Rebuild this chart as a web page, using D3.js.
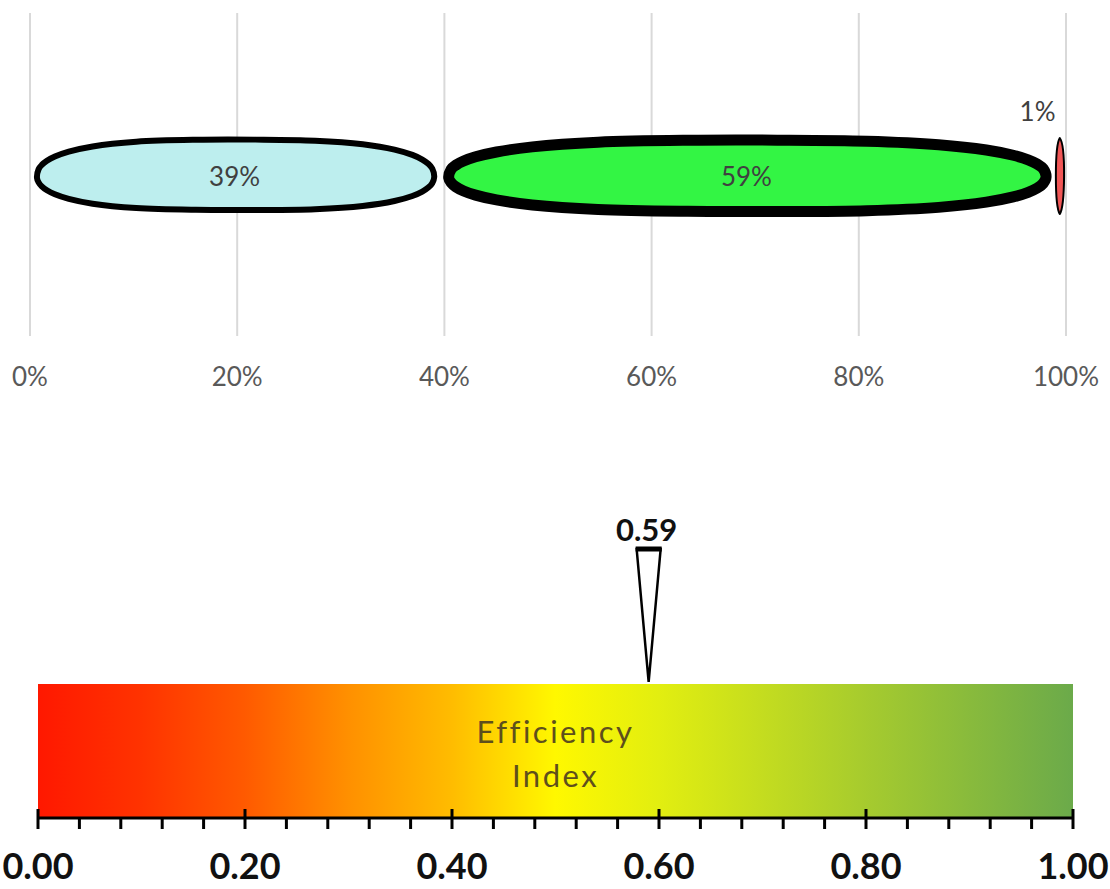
<!DOCTYPE html>
<html><head><meta charset="utf-8">
<script src="https://cdn.jsdelivr.net/npm/d3@7"></script>
<style>html,body{margin:0;padding:0;background:#fff;} svg{display:block;}</style>
</head><body>
<script>
// ---- data ----
const segLabels = ["39%", "59%", "1%"];
const segValues = [0.395, 0.593, 0.012];
const segColors = ["#BDEEEE", "#33F544", "#F05656"];
const topTicks = [0, 0.2, 0.4, 0.6, 0.8, 1.0];
const indexValue = 0.59;
const indexTitle = ["Efficiency", "Index"];
const bottomMajor = [0, 0.2, 0.4, 0.6, 0.8, 1.0];
const bottomMinor = d3.range(0, 25).map(i => i * 0.04).filter(v => Math.abs(v * 5 - Math.round(v * 5)) > 1e-6);
const gradStops = [
  [0.0, "#FF1800"], [0.1, "#FF3300"], [0.2, "#FF5A00"], [0.3, "#FF9000"],
  [0.4, "#FFBC00"], [0.5, "#FFF800"], [0.6, "#E2EE10"], [0.8, "#A6CB2E"], [1.0, "#6BAA4A"]
];

const W = 1110, H = 889;
const FONT = "Lato, 'Open Sans', sans-serif";
const svg = d3.select("body").append("svg").attr("width", W).attr("height", H);

// ---- top stacked bar ----
const x = d3.scaleLinear().domain([0, 1]).range([30, 1066]);
const gridTop = 13, gridBottom = 336;
svg.append("g").selectAll("line").data(topTicks).join("line")
  .attr("x1", d => x(d)).attr("x2", d => x(d))
  .attr("y1", gridTop).attr("y2", gridBottom)
  .attr("stroke", "#d9d9d9").attr("stroke-width", 2);

svg.append("g").selectAll("text").data(topTicks).join("text")
  .attr("x", d => x(d)).attr("y", 386)
  .attr("text-anchor", "middle")
  .attr("font-family", FONT).attr("font-size", 26).attr("fill", "#595959")
  .text(d3.format(".0%"));

let acc = 0;
const segs = segValues.map((v, i) => { const s = { x0: acc, x1: acc + v, v, i }; acc += v; return s; });
const cy = 176;
const blob = d3.line().curve(d3.curveCatmullRomClosed.alpha(0.5));
// hand-drawn looking lens outline between two scale positions
function blobPts(a, b, hTop, hBot) {
  const ts = [0, 0.004, 0.012, 0.025, 0.045, 0.08, 0.14, 0.25, 0.4, 0.55, 0.7, 0.82, 0.9, 0.945, 0.97, 0.985, 0.995];
  const g = t => Math.pow(Math.max(0, 1 - Math.pow(Math.abs(2 * t - 1), 3.3)), 0.45);
  const pts = [[a, cy + 2]];
  ts.slice(1).forEach(t => pts.push([a + t * (b - a), cy - hTop * g(t) * (1 + 0.04 * Math.sin(Math.PI * t))]));
  pts.push([b, cy + 1]);
  ts.slice(1).reverse().forEach(t => pts.push([a + t * (b - a), cy + hBot * g(t) * (1 + 0.03 * Math.sin(Math.PI * t * 0.9))]));
  return pts;
}
const strokeW = [6, 11, 2];
const hT = [38, 40, 38], hB = [36, 40, 38];
svg.append("g").selectAll("path").data(segs).join("path")
  .attr("d", d => {
    if (d.i === 2) {
      const a = x(d.x0) + 2, b = x(d.x1) - 2, m = (a + b) / 2;
      return `M${m},${cy - 38} C${b + 2},${cy - 30} ${b + 1},${cy + 30} ${m},${cy + 38} C${a - 1},${cy + 30} ${a - 1},${cy - 30} ${m},${cy - 38} Z`;
    }
    const sw = strokeW[d.i];
    return blob(blobPts(x(d.x0) + sw / 2 + 4, x(d.x1) - sw / 2 - 2, hT[d.i] - sw / 2, hB[d.i] - sw / 2));
  })
  .attr("fill", d => segColors[d.i])
  .attr("stroke", "#000").attr("stroke-width", d => strokeW[d.i])
  .attr("stroke-linejoin", "round");

svg.append("g").selectAll("text").data(segs).join("text")
  .attr("x", d => d.i === 2 ? x(d.x0) - 16 : x((d.x0 + d.x1) / 2))
  .attr("y", d => d.i === 2 ? 121 : cy + 10)
  .attr("text-anchor", "middle")
  .attr("font-family", FONT).attr("font-size", 26).attr("fill", "#404040")
  .text(d => segLabels[d.i]);

// ---- bottom gauge ----
const xb = d3.scaleLinear().domain([0, 1]).range([38, 1073]);
const barTop = 684, barBottom = 818;
const defs = svg.append("defs");
const lg = defs.append("linearGradient").attr("id", "grad").attr("x1", "0%").attr("x2", "100%").attr("y1", "0%").attr("y2", "0%");
lg.selectAll("stop").data(gradStops).join("stop")
  .attr("offset", d => d[0] * 100 + "%").attr("stop-color", d => d[1]);
svg.append("rect").attr("x", xb(0)).attr("y", barTop)
  .attr("width", xb(1) - xb(0)).attr("height", barBottom - barTop)
  .attr("fill", "url(#grad)");

svg.append("g").selectAll("text").data(indexTitle).join("text")
  .attr("x", xb(0.5)).attr("y", (d, i) => 743 + i * 44)
  .attr("text-anchor", "middle")
  .attr("font-family", FONT).attr("font-size", 31).attr("letter-spacing", 2.5)
  .attr("fill", "#5e4f1c")
  .text(d => d);

// axis
const axisG = svg.append("g");
axisG.append("line").attr("x1", xb(0)).attr("x2", xb(1)).attr("y1", barBottom).attr("y2", barBottom)
  .attr("stroke", "#000").attr("stroke-width", 3);
axisG.selectAll("line.minor").data(bottomMinor).join("line").attr("class", "minor")
  .attr("x1", d => xb(d)).attr("x2", d => xb(d)).attr("y1", barBottom).attr("y2", 829)
  .attr("stroke", "#000").attr("stroke-width", 3);
axisG.selectAll("line.major").data(bottomMajor).join("line").attr("class", "major")
  .attr("x1", d => xb(d)).attr("x2", d => xb(d)).attr("y1", 809).attr("y2", 829)
  .attr("stroke", "#000").attr("stroke-width", 3);
axisG.selectAll("text").data(bottomMajor).join("text")
  .attr("x", d => xb(d)).attr("y", 879)
  .attr("text-anchor", "middle")
  .attr("font-family", FONT).attr("font-weight", "bold").attr("font-size", 36).attr("fill", "#111")
  .text(d3.format(".2f"));

// marker
const mx = xb(indexValue);
const triTop = 549, triHalf = 12;
svg.append("path")
  .attr("d", `M${mx - triHalf},${triTop} L${mx + triHalf},${triTop} L${mx},${barTop - 2} Z`)
  .attr("fill", "#fff").attr("stroke", "#000").attr("stroke-width", 2.5).attr("stroke-linejoin", "miter");
svg.append("line").attr("x1", mx - triHalf - 1).attr("x2", mx + triHalf + 1).attr("y1", triTop).attr("y2", triTop)
  .attr("stroke", "#000").attr("stroke-width", 5);
svg.append("text").attr("x", mx - 2).attr("y", 541).attr("text-anchor", "middle")
  .attr("font-family", FONT).attr("font-weight", "bold").attr("font-size", 31).attr("fill", "#111")
  .text(d3.format(".2f")(indexValue));
</script>
</body></html>
